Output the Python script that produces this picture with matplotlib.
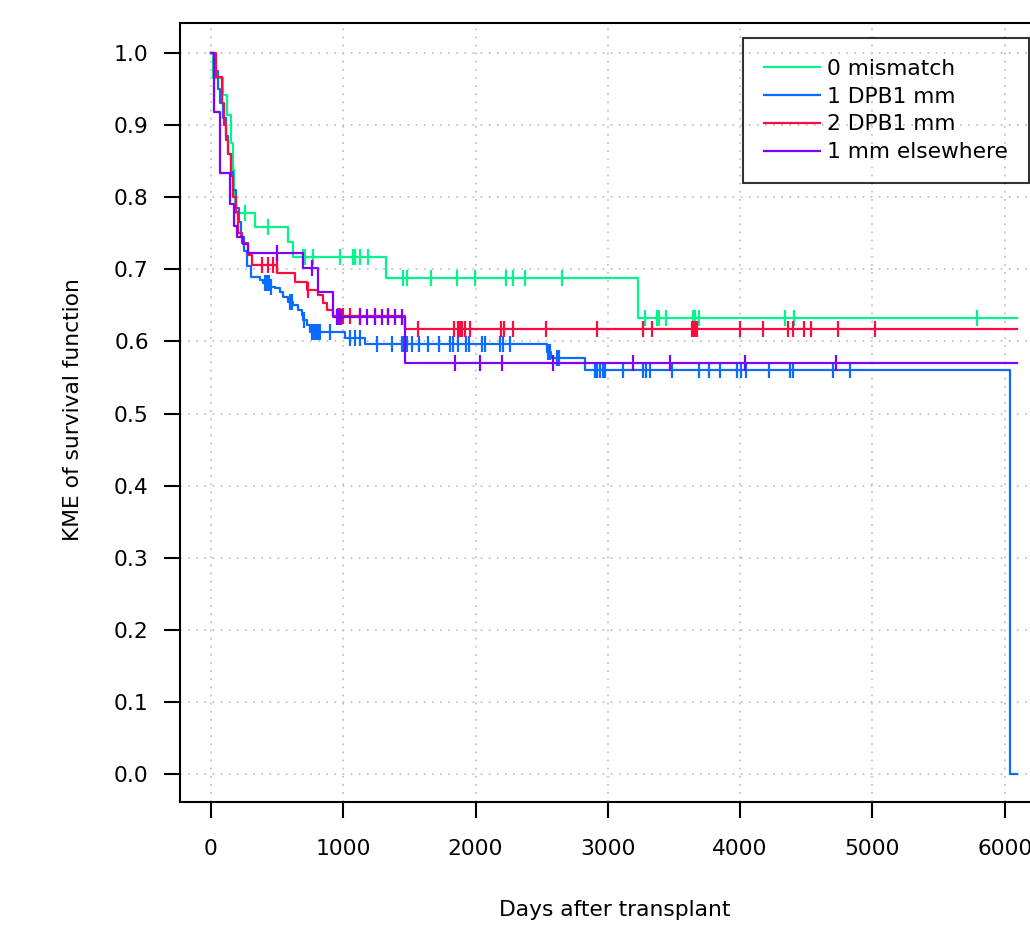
import numpy as np
import matplotlib
matplotlib.use("Agg")
import matplotlib.pyplot as plt

# Kaplan-Meier step curves (days, survival after step)
labels = ["0 mismatch", "1 DPB1 mm", "2 DPB1 mm", "1 mm elsewhere"]
colors = ["#00F58A", "#0A6CFF", "#FF0A40", "#7F00FF"]

green_t = [0, 15, 90, 120, 150, 165, 175, 181, 333, 582, 620, 1323, 3227]
green_s = [1.0, 0.965, 0.942, 0.914, 0.875, 0.838, 0.80, 0.778, 0.759, 0.738, 0.717, 0.688, 0.632]
green_cens = [257, 431, 695, 710, 771, 975, 1073, 1088, 1126, 1187, 1451, 1481, 1663, 1860,
              1995, 2230, 2283, 2373, 2653, 3280, 3371, 3386, 3439, 3643, 3660, 3688, 4339,
              4407, 5790]

blue_t = [0, 25, 50, 70, 90, 110, 130, 150, 170, 190, 210, 230, 250, 270, 300, 370, 393,
          446, 484, 522, 544, 582, 620, 658, 688, 695, 726, 748, 1013, 1164, 2540, 2570,
          2827, 6040]
blue_s = [1.0, 0.975, 0.95, 0.93, 0.91, 0.885, 0.86, 0.835, 0.81, 0.785, 0.765, 0.745,
          0.725, 0.705, 0.69, 0.685, 0.681, 0.676, 0.674, 0.668, 0.662, 0.655, 0.650,
          0.644, 0.637, 0.630, 0.623, 0.613, 0.605, 0.597, 0.585, 0.577, 0.560, 0.0]
blue_cens = [410, 425, 440, 455, 600, 615, 700, 765, 780, 795, 810, 825, 900, 1050, 1088,
             1126, 1255, 1368, 1444, 1455, 1466, 1481, 1519, 1572, 1640, 1723, 1806, 1829,
             1867, 1927, 1950, 2048, 2071, 2184, 2207, 2260, 2545, 2560, 2615, 2630, 2902,
             2920, 2940, 2960, 2978, 3114, 3265, 3290, 3318, 3485, 3689, 3764, 3847, 3976,
             4006, 4044, 4218, 4376, 4399, 4701, 4830]

red_t = [0, 40, 85, 100, 115, 130, 150, 170, 190, 205, 235, 280, 310, 499, 635, 726, 809,
         847, 877, 922, 1466]
red_s = [1.0, 0.967, 0.93, 0.90, 0.88, 0.86, 0.83, 0.80, 0.78, 0.75, 0.736, 0.72, 0.706,
         0.695, 0.682, 0.671, 0.664, 0.653, 0.644, 0.635, 0.617]
red_cens = [385, 431, 468, 498, 733, 960, 975, 1000, 1050, 1126, 1240, 1338, 1565, 1837,
            1867, 1885, 1900, 1920, 1958, 2192, 2214, 2283, 2532, 2918, 3265, 3333, 3636,
            3650, 3662, 3674, 3998, 4172, 4361, 4399, 4482, 4535, 4739, 5019]

purple_t = [0, 20, 68, 145, 175, 200, 240, 280, 695, 809, 922, 1466]
purple_s = [1.0, 0.918, 0.834, 0.79, 0.76, 0.745, 0.735, 0.722, 0.702, 0.668, 0.634, 0.57]
purple_cens = [499, 763, 955, 965, 975, 985, 1126, 1179, 1240, 1293, 1338, 1391, 1444,
               1844, 2033, 2200, 2585, 3190, 3469, 4036, 4724]

end_time = 6090

series = [(green_t, green_s, green_cens), (blue_t, blue_s, blue_cens),
          (red_t, red_s, red_cens), (purple_t, purple_s, purple_cens)]

fs = 15.7
plt.rcParams['font.family'] = ['DejaVu Sans']
fig = plt.figure(figsize=(10.3, 9.25), dpi=100)
ax = fig.add_axes([180/1030, 123/925, 866/1030, 779/925])

for (t, s, c), col, lab in zip(series, colors, labels):
    tt = np.append(t, end_time)
    ss = np.append(s, s[-1])
    ax.step(tt, ss, where='post', color=col, lw=1.6, label=lab, zorder=3)
    idx = np.searchsorted(t, c, side='right') - 1
    cy = np.array(s)[idx]
    ax.plot(c, cy, ls='none', marker='|', ms=11.5, mew=1.6, color=col, zorder=3)

ax.set_xlim(-234, 6312)
ax.set_ylim(-0.0388, 1.0416)
ax.set_xticks(np.arange(0, 7000, 1000))
ax.set_yticks(np.arange(0, 1.01, 0.1))
ax.set_yticklabels(["%.1f" % v for v in np.arange(0, 1.01, 0.1)])
ax.grid(True, color='#c4c4c4', lw=1.3, ls=(0, (1, 3.5)))
ax.set_axisbelow(True)
for sp in ax.spines.values():
    sp.set_linewidth(1.5)
ax.tick_params(length=11.5, width=1.5, labelsize=fs)
ax.tick_params(axis='x', pad=15)
ax.tick_params(axis='y', pad=11)

fig.text(615/1030, 1 - 910/925, "Days after transplant", ha='center', va='center', fontsize=fs)
fig.text(73/1030, 1 - 410/925, "KME of survival function", ha='center', va='center',
         rotation=90, fontsize=fs)

leg = ax.legend(loc='upper left', bbox_to_anchor=(743/1030, 1 - 38/925),
                bbox_transform=fig.transFigure, fontsize=fs, frameon=True, fancybox=False,
                handlelength=2.6, handletextpad=0.3, labelspacing=0.36, borderpad=0.95,
                borderaxespad=0)
leg.get_frame().set_facecolor('none')
leg.get_frame().set_edgecolor('black')
leg.get_frame().set_linewidth(1.5)

plt.savefig('out.png', dpi=100)
